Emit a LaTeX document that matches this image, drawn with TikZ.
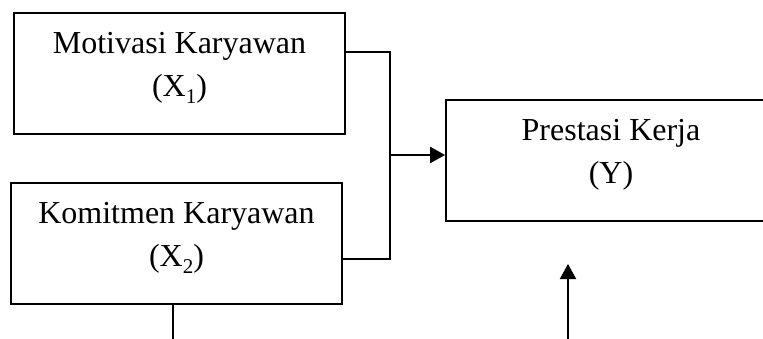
\documentclass[tikz,border=0pt]{standalone}
\usepackage{fontspec}
\setmainfont{Liberation Serif}
\usetikzlibrary{arrows.meta}
\newcommand{\subidx}[1]{\raisebox{-0.22em}{\fontsize{21}{21}\selectfont #1}}
\begin{document}
\begin{tikzpicture}[x=1pt,y=-1pt,
  box/.style={draw=black,line width=1.8pt,rectangle,inner sep=0pt},
  txt/.style={align=center,inner sep=0pt,font=\fontsize{32}{43}\selectfont},
  conn/.style={draw=black,line width=1.6pt},
  arr/.style={draw=black,line width=2.2pt,-{Triangle[length=15pt,width=16pt]}}]
\useasboundingbox (0,0) rectangle (763,338);
\clip (0,0) rectangle (763,338);
\node[box,minimum width=331pt,minimum height=121pt] (m) at (179.5,73.5) {};
\node[box,minimum width=331pt,minimum height=121pt] (k) at (176.5,243.5) {};
\node[box,minimum width=330pt,minimum height=121pt] (y) at (611,160.5) {};
\node[txt,yshift=5.5pt] (mt) at (m.center) {Motivasi Karyawan\\(X\subidx{1})};
\node[txt,yshift=5.5pt] (kt) at (k.center) {Komitmen Karyawan\\(X\subidx{2})};
\node[txt,yshift=5.5pt] (yt) at (y.center) {Prestasi Kerja\\(Y)};
\coordinate (j) at (390,155);
\draw[conn] ([yshift=-40pt]m.north east) -| (j) |- ([yshift=46pt]k.south east);
\draw[arr] (j) -- (y.west |- j);
\coordinate (kb) at (173,340);
\draw[conn] (k.south -| kb) -- (kb);
\coordinate (ya) at (568,340);
\coordinate (yb) at (568,264);
\draw[arr] (ya) -- (yb);
\end{tikzpicture}
\end{document}
